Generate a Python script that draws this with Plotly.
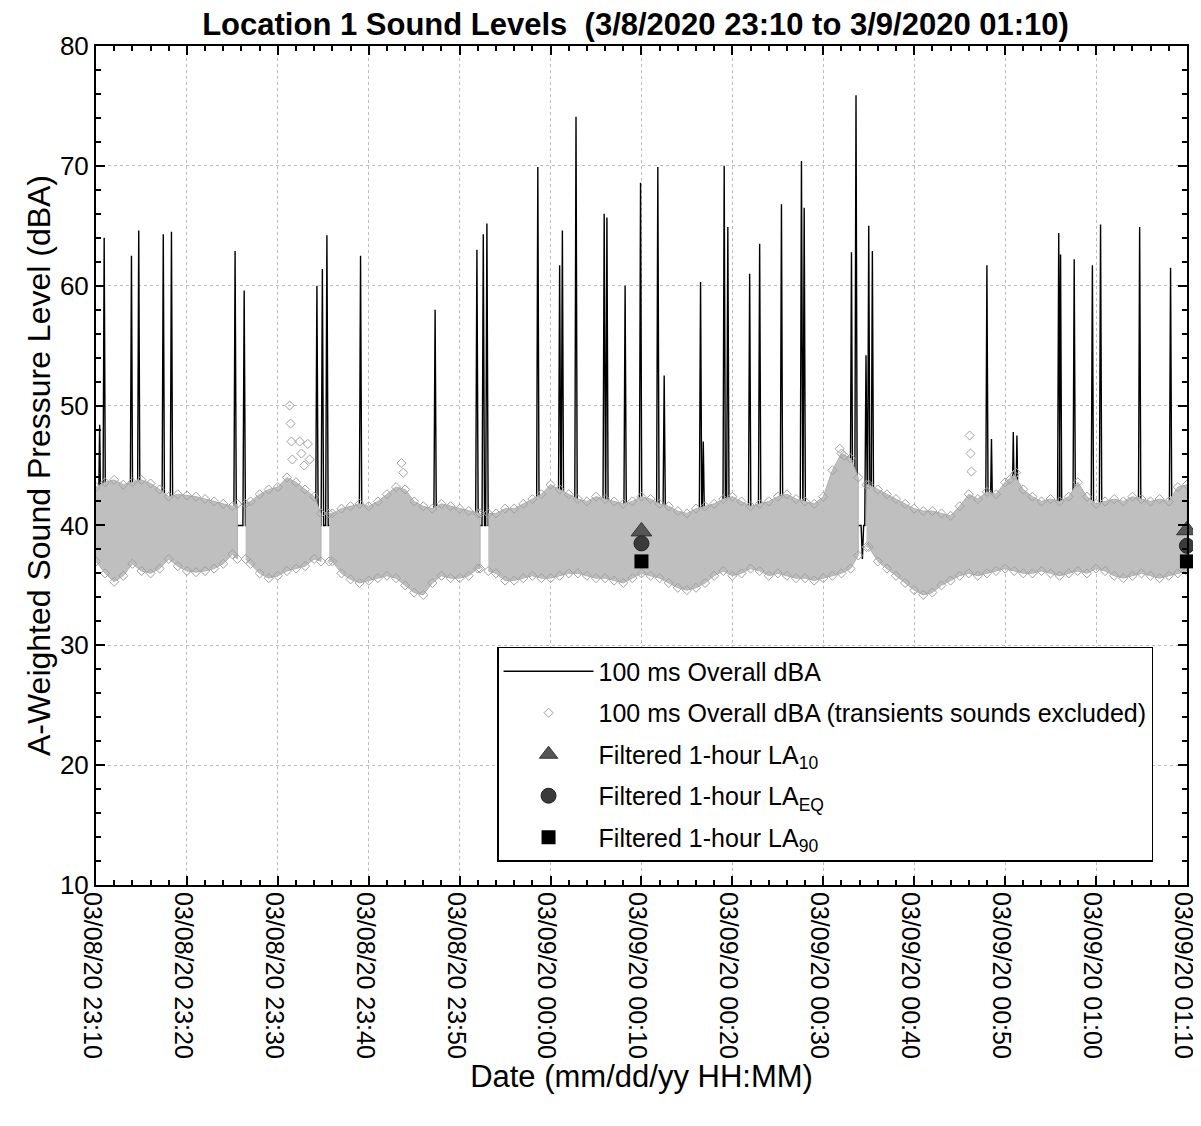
import plotly.graph_objects as go
import pandas as pd

START = pd.Timestamp("2020-03-08 23:10:00")
END = pd.Timestamp("2020-03-09 01:10:00")

# ---- 100 ms overall dBA: transient events (minutes after 23:10, peak dBA) ----
spike_min = [0.4, 0.9, 3.9, 4.7, 7.4, 8.3, 15.3, 16.3, 24.3, 24.9, 25.4, 29.1,
             37.3, 41.9, 42.6, 43.0, 48.6, 51.0, 51.3, 52.8, 55.9, 56.2, 58.2,
             59.9, 61.8, 62.5, 66.5, 66.8, 69.1, 69.5, 71.9, 73.0, 75.4, 77.6,
             77.9, 83.1, 83.6, 84.7, 85.0, 85.4, 98.0, 98.5, 100.9, 101.3,
             105.9, 106.1, 107.6, 109.6, 110.5, 114.8, 118.2]
spike_db = [48.4, 64.0, 62.5, 64.6, 64.3, 64.5, 62.9, 59.6, 60.0, 61.4, 64.2, 62.5,
            58.0, 63.0, 64.3, 65.2, 69.9, 61.7, 64.6, 74.1, 66.0, 65.7, 60.0,
            68.6, 69.9, 52.5, 60.3, 47.0, 70.0, 64.9, 61.0, 63.5, 66.8, 70.4,
            66.5, 62.8, 75.9, 54.2, 65.0, 62.9, 61.7, 47.2, 47.8, 47.5,
            64.4, 62.6, 62.2, 61.7, 65.1, 64.9, 61.5]
dip_min = [84.3]
dip_db = [37.2]
base_db = 40.0

# ---- 100 ms overall dBA, transients excluded: band envelope per minute ----
band_upper = [43.2, 43.6, 43.8, 43.4, 43.6, 43.8, 43.5, 43.0, 42.4, 42.6,
              42.5, 42.4, 42.2, 42.0, 41.8, 41.6, 41.8, 42.0, 42.6, 43.0,
              43.2, 44.0, 43.6, 43.0, 42.4, 41.0, 41.0, 41.4, 41.6, 41.8,
              41.6, 42.0, 42.6, 43.2, 43.0, 42.0, 41.6, 41.4, 41.8, 41.6,
              41.4, 41.2, 41.0, 41.0, 41.0, 41.4, 41.4, 41.8, 42.2, 42.6,
              43.4, 43.0, 42.6, 42.2, 42.0, 42.4, 42.2, 42.0, 41.8, 42.0,
              42.4, 42.2, 41.8, 41.6, 41.2, 41.0, 41.4, 41.6, 41.8, 42.2,
              42.4, 42.0, 41.6, 41.8, 42.0, 42.4, 42.6, 42.2, 42.0, 41.8,
              42.4, 44.6, 46.0, 45.6, 44.0, 43.4, 43.0, 42.6, 42.2, 41.8,
              41.4, 41.2, 41.2, 41.0, 40.8, 41.6, 42.6, 42.2, 42.8, 42.6,
              43.6, 44.2, 43.0, 42.4, 42.0, 42.2, 42.0, 42.4, 43.6, 42.4,
              41.8, 42.0, 42.2, 42.0, 42.4, 42.2, 42.0, 42.2, 42.0, 43.2,
              43.4]
band_lower = [37.0, 36.0, 35.3, 35.8, 36.8, 36.2, 36.0, 36.4, 37.2, 36.6,
              36.2, 36.1, 36.2, 36.4, 36.8, 37.6, 37.2, 36.8, 36.0, 35.6,
              35.8, 36.2, 36.4, 36.6, 37.2, 37.0, 37.0, 36.0, 35.5, 35.2,
              35.4, 35.6, 35.8, 35.6, 35.0, 34.4, 34.2, 35.2, 35.8, 35.6,
              35.6, 35.8, 36.4, 36.2, 36.0, 35.4, 35.4, 35.6, 35.8, 35.6,
              35.6, 35.8, 36.0, 36.0, 35.8, 35.6, 35.6, 35.4, 35.2, 35.6,
              36.0, 35.8, 35.6, 35.2, 34.8, 34.6, 34.8, 35.2, 35.8, 36.2,
              35.8, 36.0, 36.4, 36.2, 35.8, 36.0, 35.8, 35.6, 35.6, 35.4,
              35.6, 35.8, 36.0, 36.4, 37.5, 38.2, 37.0, 36.4, 35.8, 35.2,
              34.6, 34.2, 34.4, 35.0, 35.4, 35.8, 36.0, 35.8, 36.0, 36.2,
              36.4, 36.2, 36.0, 36.0, 36.2, 36.0, 35.8, 36.0, 36.2, 36.0,
              36.4, 36.2, 35.8, 35.6, 35.8, 36.0, 35.8, 35.6, 35.8, 36.0,
              36.2]
band_gap_min = [16.0, 25.2, 42.7, 84.3]
excl_extra_min = [21.3, 21.4, 21.5, 21.6, 22.4, 22.6, 22.9, 23.3, 23.5,
                  33.6, 33.8, 81.8, 82.3, 96.1, 96.2, 96.3, 100.5, 101.2]
excl_extra_db = [50.0, 48.5, 47.0, 45.5, 47.0, 46.0, 45.0, 46.8, 45.5,
                 45.2, 44.4, 46.4, 45.8, 47.5, 46.0, 44.5, 43.8, 44.4]

# ---- Filtered 1-hour statistics ----
hour_min = [60, 120]
la10 = [39.5, 39.6]
laeq = [38.5, 38.3]
la90 = [37.0, 37.0]

# ---- x tick positions (minutes after 23:10) ----
tick_min = [0, 10, 20, 30, 40, 50, 60, 70, 80, 90, 100, 110, 120]

GAP_HW = 0.45
FONT = "Liberation Sans, Arial, sans-serif"


def t(m):
    return START + pd.Timedelta(minutes=m)


# black line
events = sorted([(m, v) for m, v in zip(spike_min, spike_db)] +
                [(m, v) for m, v in zip(dip_min, dip_db)])
w = 0.14
lx, ly = [t(0)], [base_db]
for m, v in events:
    lx += [t(m - w), t(m), t(m + w)]
    ly += [base_db, v, base_db]
lx.append(t(120))
ly.append(base_db)

# band polygons, split at gaps
n = len(band_upper)
bounds = [0.0] + [g for g in band_gap_min] + [float(n - 1)]
bx, by = [], []
dx, dy = [], []
for si in range(len(bounds) - 1):
    a = bounds[si] + (GAP_HW if si > 0 else 0.0)
    b = bounds[si + 1] - (GAP_HW if si < len(bounds) - 2 else 0.0)
    pts = [a] + [float(k) for k in range(n) if a < k < b] + [b]
    up = [band_upper[min(n - 1, int(round(p)))] for p in pts]
    lo = [band_lower[min(n - 1, int(round(p)))] for p in pts]
    bx += [t(p) for p in pts] + [t(p) for p in reversed(pts)] + [None]
    by += up + list(reversed(lo)) + [None]
    for p, u, l in zip(pts, up, lo):
        dx += [t(p), t(p)]
        dy += [u, l]
dx += [t(m) for m in excl_extra_min]
dy += excl_extra_db

fig = go.Figure()
fig.add_trace(go.Scatter(x=lx, y=ly, mode="lines", line=dict(color="black", width=1.4),
                         name="100 ms Overall dBA", legendgroup="a"))
fig.add_trace(go.Scatter(x=bx, y=by, mode="lines", fill="toself", fillcolor="#bfbfbf",
                         line=dict(color="#b0b0b0", width=1), showlegend=False,
                         hoverinfo="skip"))
fig.add_trace(go.Scatter(x=dx, y=dy, mode="markers",
                         marker=dict(symbol="diamond-open", size=7, color="#a0a0a0",
                                     line=dict(width=1)),
                         name="100 ms Overall dBA (transients sounds excluded)",
                         legendgroup="b"))
fig.add_trace(go.Scatter(x=[t(m) for m in hour_min], y=la10, mode="markers",
                         marker=dict(symbol="triangle-up", size=18, color="#555555",
                                     line=dict(color="#333333", width=1)),
                         cliponaxis=False,
                         name="Filtered 1-hour LA<sub>10</sub>", legendgroup="c"))
fig.add_trace(go.Scatter(x=[t(m) for m in hour_min], y=laeq, mode="markers",
                         marker=dict(symbol="circle", size=15, color="#3a3a3a",
                                     line=dict(color="#222222", width=1)),
                         cliponaxis=False,
                         name="Filtered 1-hour LA<sub>EQ</sub>", legendgroup="d"))
fig.add_trace(go.Scatter(x=[t(m) for m in hour_min], y=la90, mode="markers",
                         marker=dict(symbol="square", size=14, color="black"),
                         cliponaxis=False,
                         name="Filtered 1-hour LA<sub>90</sub>", legendgroup="e"))

axis_common = dict(showline=True, linecolor="black", linewidth=2, mirror="allticks",
                   ticks="inside", ticklen=9, tickwidth=1.5, tickcolor="black",
                   showgrid=True, gridcolor="#bdbdbd", griddash="dot", gridwidth=1,
                   zeroline=False, automargin=False, ticklabeloverflow="allow")

fig.update_xaxes(type="date", range=[START, END + pd.Timedelta(seconds=0.5)],
                 tickmode="array", tickvals=[t(m) for m in tick_min],
                 tickformat="%m/%d/%y %H:%M", tickangle=90, ticklabelshift=-4,
                 tickfont=dict(family=FONT, size=25, color="black"),
                 minor=dict(dtick=120000, tick0=START, ticks="inside", ticklen=5,
                            tickcolor="black", showgrid=False),
                 title=dict(text="Date (mm/dd/yy HH:MM)", standoff=4,
                            font=dict(family=FONT, size=31, color="black")),
                 **axis_common)
fig.update_yaxes(range=[10, 80], dtick=10,
                 tickfont=dict(family=FONT, size=26, color="black"),
                 minor=dict(dtick=2, ticks="inside", ticklen=5, tickcolor="black",
                            showgrid=False),
                 title=dict(text="A-Weighted Sound Pressure Level (dBA)", standoff=0,
                            font=dict(family=FONT, size=32, color="black")),
                 **axis_common)

# page body adds an 8 px offset; the sizes below compensate so the plot area
# sits where it is in the reference image
fig.update_layout(
    width=1193, height=1110,
    margin=dict(l=88, r=14, t=38, b=233),
    paper_bgcolor="white", plot_bgcolor="white",
    title=dict(text="<b>Location 1 Sound Levels  (3/8/2020 23:10 to 3/9/2020 01:10)</b>",
               x=0.526, xanchor="center", y=0.9856, yanchor="middle",
               font=dict(family="Liberation Sans Narrow, Arial Narrow, " + FONT,
                         size=31, color="black")),
    legend=dict(x=0.3676, xanchor="left", y=0.2837, yanchor="top",
                bgcolor="white", bordercolor="black", borderwidth=1.5,
                font=dict(family=FONT, size=25, color="black"),
                tracegroupgap=6, itemwidth=90),
    showlegend=True,
)

fig.write_html("out.html")
